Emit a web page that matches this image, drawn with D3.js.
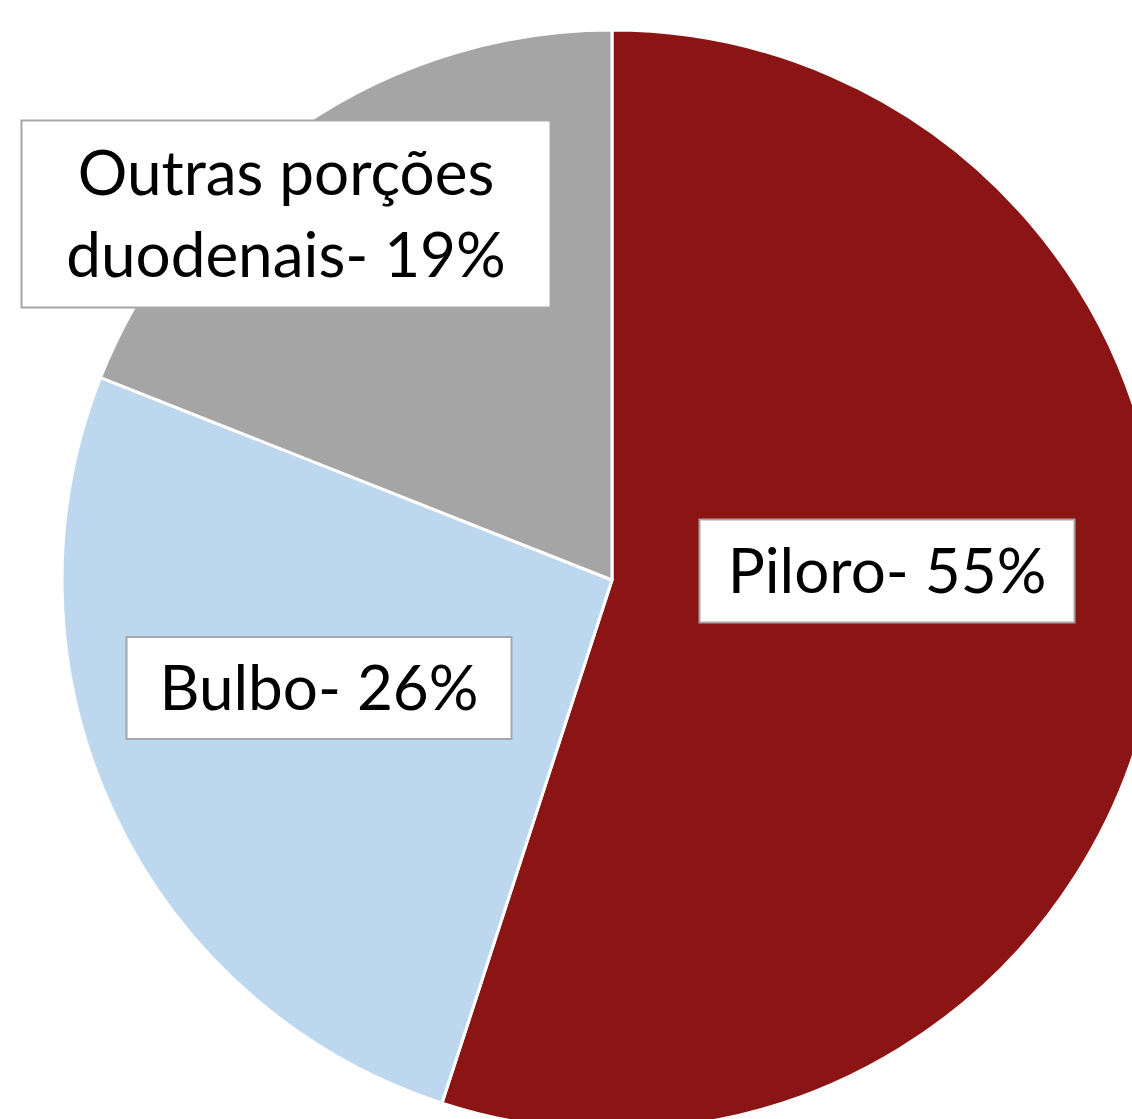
<!DOCTYPE html>
<html>
<head>
<meta charset="utf-8">
<script src="https://cdn.jsdelivr.net/npm/d3@7"></script>
<style>
  html, body { margin: 0; padding: 0; background: #fff; }
  svg { display: block; }
</style>
</head>
<body>
<svg id="chart" width="1132" height="1119"></svg>
<script>
// Distribution by location
const categories = ["Piloro", "Bulbo", "Outras porções duodenais"];
const values = [55, 26, 19];
const labelLines = [
  ["Piloro- 55%"],
  ["Bulbo- 26%"],
  ["Outras porções", "duodenais- 19%"]
];
const colors = ["#8B1515", "#BDD7EE", "#A5A5A5"];

const svg = d3.select("#chart");
const cx = 612, cy = 580, radius = 550;

const data = categories.map((c, i) => ({ name: c, value: values[i], lines: labelLines[i], color: colors[i] }));

const pie = d3.pie().value(d => d.value).sort(null);
const arc = d3.arc().innerRadius(0).outerRadius(radius);
const arcs = pie(data);

const g = svg.append("g").attr("transform", `translate(${cx},${cy})`);

g.selectAll("path.slice")
  .data(arcs)
  .join("path")
  .attr("class", "slice")
  .attr("d", arc)
  .attr("fill", d => d.data.color)
  .attr("stroke", "#fff")
  .attr("stroke-width", 3)
  .attr("stroke-linejoin", "round");

// Boxed data labels: box size and centre relative to the pie centre
const labelBoxes = [
  { w: 375, h: 103, cx: 275, cy: -9 },
  { w: 385, h: 102, cx: -293, cy: 108 },
  { w: 529, h: 187, cx: -326, cy: -366 }
];
const fontSize = 62;
const lineGap = 82;

arcs.forEach((a, i) => {
  const b = labelBoxes[i];
  const lines = a.data.lines;
  const lg = g.append("g").attr("class", "label");
  lg.append("rect")
    .attr("x", b.cx - b.w / 2).attr("y", b.cy - b.h / 2)
    .attr("width", b.w).attr("height", b.h)
    .attr("fill", "#fff")
    .attr("stroke", "#A6A6A6")
    .attr("stroke-width", 2);
  const firstBaseline = b.cy - (lines.length - 1) * lineGap / 2 + 22;
  lines.forEach((t, k) => {
    lg.append("text")
      .attr("x", b.cx)
      .attr("y", firstBaseline + k * lineGap)
      .attr("text-anchor", "middle")
      .attr("font-family", "Lato, sans-serif")
      .attr("font-size", fontSize)
      .attr("fill", "#000")
      .text(t);
  });
});
</script>
</body>
</html>
